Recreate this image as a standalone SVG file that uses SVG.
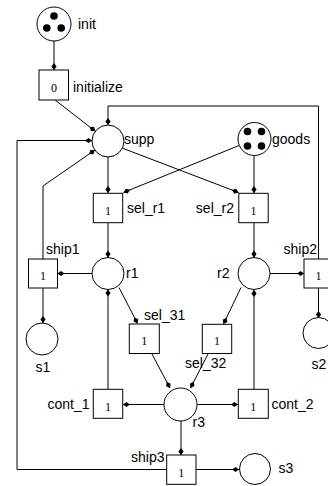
<svg xmlns="http://www.w3.org/2000/svg" width="328" height="486" viewBox="0 0 328 486">
<style>
.pl{fill:#fff;stroke:#000;stroke-width:1}
.tr{fill:#fff;stroke:#000;stroke-width:1}
.tk{fill:#000}
.lb{font-family:"Liberation Sans",Arial,sans-serif;font-size:14px;fill:#000}
.nm{font-family:"Liberation Serif","Times New Roman",serif;font-size:12px;fill:#000;text-anchor:middle}
.e{fill:none;stroke:#000;stroke-width:1;marker-end:url(#ah)}
</style>
<defs>
<marker id="ah" markerUnits="userSpaceOnUse" markerWidth="10" markerHeight="8" viewBox="-8 -4 10 8" refX="0" refY="0" orient="auto">
<path d="M0,0 L-3.5,-2.6 L-7,0 L-3.5,2.6 Z" fill="#000"/>
</marker>
</defs>
<rect width="328" height="486" fill="#fff"/>
<g id="connectors">
<path class="e" d="M54,41 L54,70"/>
<path class="e" d="M55,100 L95.3,131.2"/>
<path class="e" d="M318.5,259 L318.5,106 L108,106 L108,125"/>
<path class="e" d="M166.5,469.5 L17,469.5 L17,140.5 L92,140.5"/>
<path class="e" d="M43,259 L43,186 L94.8,150.1"/>
<path class="e" d="M108,157 L108,193"/>
<path class="e" d="M122,148 L238.5,192.5"/>
<path class="e" d="M239,145.5 L123.5,192.5"/>
<path class="e" d="M254,155.5 L254,193"/>
<path class="e" d="M108,223 L108,257.5"/>
<path class="e" d="M254,223 L254,257.5"/>
<path class="e" d="M92,273.5 L57.5,273.5"/>
<path class="e" d="M270,273.5 L304,273.5"/>
<path class="e" d="M43,288 L43,323"/>
<path class="e" d="M318.5,288 L318.5,318"/>
<path class="e" d="M119,287.5 L137.5,323.5"/>
<path class="e" d="M241,287.5 L223.5,324"/>
<path class="e" d="M151.7,353.5 L170,388"/>
<path class="e" d="M208.3,353.5 L190.5,388"/>
<path class="e" d="M164.5,404.5 L123,404.5"/>
<path class="e" d="M197.5,404.5 L238,404.5"/>
<path class="e" d="M108,389 L108,289.5"/>
<path class="e" d="M254,389 L254,290"/>
<path class="e" d="M181,421 L181,455"/>
<path class="e" d="M196,469.5 L239,469.5"/>
</g>
<g id="init">
<circle class="pl" cx="54" cy="24" r="17"/>
<circle class="tk" cx="54" cy="16" r="3.8"/>
<circle class="tk" cx="46.8" cy="28" r="3.8"/>
<circle class="tk" cx="61.2" cy="28" r="3.8"/>
<text class="lb" x="78" y="29">init</text>
</g>
<g id="initialize">
<rect class="tr" x="39" y="70" width="29.5" height="30"/>
<text class="nm" x="54" y="91.5">0</text>
<text class="lb" x="73" y="91.5">initialize</text>
</g>
<g id="supp">
<circle class="pl" cx="108" cy="141" r="16"/>
<text class="lb" x="124" y="143.5">supp</text>
</g>
<g id="goods">
<circle class="pl" cx="254.5" cy="139" r="16.5"/>
<circle class="tk" cx="247.5" cy="131.5" r="3.8"/>
<circle class="tk" cx="261.5" cy="131.5" r="3.8"/>
<circle class="tk" cx="247.5" cy="146" r="3.8"/>
<circle class="tk" cx="261.5" cy="146" r="3.8"/>
<text class="lb" x="272" y="143.5">goods</text>
</g>
<g id="sel_r1">
<rect class="tr" x="93.3" y="193.3" width="29.4" height="29.4"/>
<text class="nm" x="108" y="215">1</text>
<text class="lb" x="127" y="212.5">sel_r1</text>
</g>
<g id="sel_r2">
<rect class="tr" x="238.8" y="193.3" width="29.4" height="29.4"/>
<text class="nm" x="253.5" y="215">1</text>
<text class="lb" x="234" y="212.5" text-anchor="end">sel_r2</text>
</g>
<g id="r1">
<circle class="pl" cx="108" cy="273.5" r="16"/>
<text class="lb" x="126" y="278">r1</text>
</g>
<g id="r2">
<circle class="pl" cx="254" cy="273.5" r="16"/>
<text class="lb" x="229.5" y="277.5" text-anchor="end">r2</text>
</g>
<g id="ship1">
<rect class="tr" x="28.5" y="259" width="29" height="29"/>
<text class="nm" x="43" y="280">1</text>
<text class="lb" x="46" y="254">ship1</text>
</g>
<g id="ship2">
<rect class="tr" x="304" y="259" width="29" height="29"/>
<text class="nm" x="318.5" y="280">1</text>
<text class="lb" x="317" y="254" text-anchor="end">ship2</text>
</g>
<g id="s1">
<circle class="pl" cx="42" cy="339" r="16"/>
<text class="lb" x="43" y="371.5" text-anchor="middle">s1</text>
</g>
<g id="s2">
<circle class="pl" cx="318.5" cy="333" r="15.5"/>
<text class="lb" x="311.5" y="368.5">s2</text>
</g>
<g id="sel_31">
<rect class="tr" x="129.3" y="324" width="30" height="29.5"/>
<text class="nm" x="144.3" y="345">1</text>
<text class="lb" x="144" y="320">sel_31</text>
</g>
<g id="sel_32">
<rect class="tr" x="202.3" y="324.3" width="29.4" height="29.2"/>
<text class="nm" x="217" y="345">1</text>
<text class="lb" x="185" y="368">sel_32</text>
</g>
<g id="r3">
<circle class="pl" cx="180.5" cy="404.5" r="16.5"/>
<text class="lb" x="192.5" y="427">r3</text>
</g>
<g id="cont_1">
<rect class="tr" x="93.3" y="389.3" width="29.4" height="29"/>
<text class="nm" x="108" y="410.5">1</text>
<text class="lb" x="89.5" y="408.5" text-anchor="end">cont_1</text>
</g>
<g id="cont_2">
<rect class="tr" x="238.3" y="389.3" width="30" height="29"/>
<text class="nm" x="253.3" y="410.5">1</text>
<text class="lb" x="271.5" y="408.5">cont_2</text>
</g>
<g id="ship3">
<rect class="tr" x="166.7" y="455" width="29.3" height="29.3"/>
<text class="nm" x="181.3" y="476.5">1</text>
<text class="lb" x="164.5" y="462" text-anchor="end">ship3</text>
</g>
<g id="s3">
<circle class="pl" cx="255" cy="469" r="15.5"/>
<text class="lb" x="278.5" y="473">s3</text>
</g>
</svg>
